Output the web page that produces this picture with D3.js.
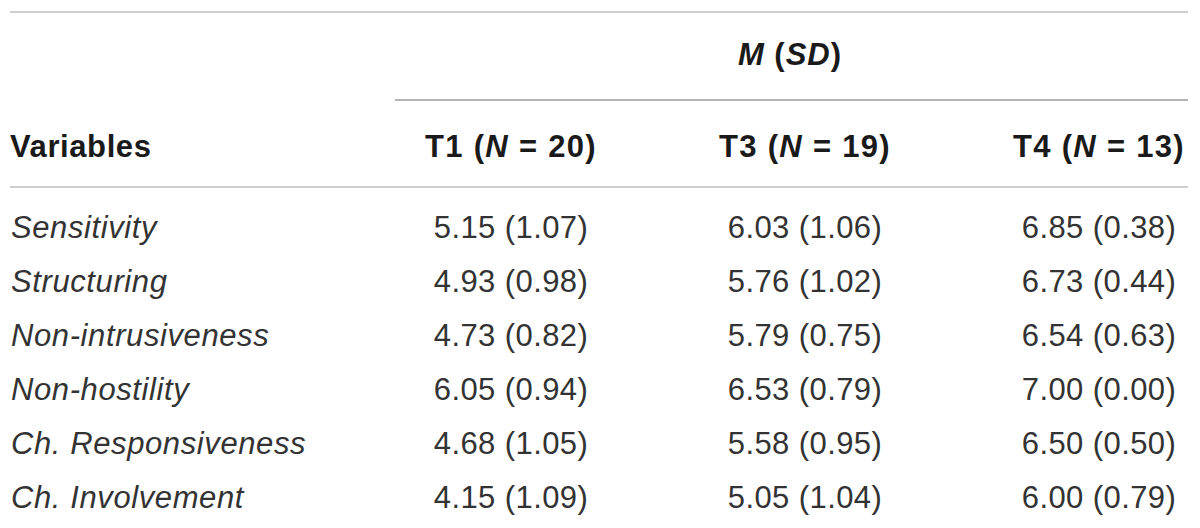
<!DOCTYPE html>
<html>
<head>
<meta charset="utf-8">
<script src="https://cdn.jsdelivr.net/npm/d3@7"></script>
<style>
  html, body { margin: 0; padding: 0; background: #fff; }
  svg text { font-family: "Liberation Sans", Arial, Helvetica, sans-serif; }
</style>
</head>
<body>
<div id="table_div"></div>
<script>
// table content
const variables = ["Sensitivity", "Structuring", "Non-intrusiveness", "Non-hostility",
    "Ch. Responsiveness", "Ch. Involvement"];
const times = ["T1", "T3", "T4"];
const sample_sizes = [20, 19, 13];
const t1_mean = [5.15, 4.93, 4.73, 6.05, 4.68, 4.15];
const t1_sd = [1.07, 0.98, 0.82, 0.94, 1.05, 1.09];
const t3_mean = [6.03, 5.76, 5.79, 6.53, 5.58, 5.05];
const t3_sd = [1.06, 1.02, 0.75, 0.79, 0.95, 1.04];
const t4_mean = [6.85, 6.73, 6.54, 7.00, 6.50, 6.00];
const t4_sd = [0.38, 0.44, 0.63, 0.00, 0.50, 0.79];

const means = [t1_mean, t3_mean, t4_mean];
const sds = [t1_sd, t3_sd, t4_sd];

const width = 1200, height = 528;

const svg = d3.select("#table_div")
    .append("svg")
    .attr("width", width)
    .attr("height", height);

// column centres and row baselines
const x = d3.scalePoint()
    .domain(times)
    .range([511, 1099]);

const y = d3.scalePoint()
    .domain(variables)
    .range([238, 508]);

// rules
const rules = [
    {x1: 10, x2: 1188, y: 12, color: "#cfcfcf"},
    {x1: 395, x2: 1188, y: 100, color: "#b4b4b4"},
    {x1: 10, x2: 1188, y: 187, color: "#cfcfcf"}
];
svg.selectAll("line.rule")
    .data(rules)
    .join("line")
    .attr("class", "rule")
    .attr("x1", d => d.x1)
    .attr("x2", d => d.x2)
    .attr("y1", d => d.y)
    .attr("y2", d => d.y)
    .attr("stroke", d => d.color)
    .attr("stroke-width", 2);

// M (SD) spanner
const spanner = svg.append("text")
    .attr("x", 790)
    .attr("y", 65)
    .attr("text-anchor", "middle")
    .style("font-size", "31px")
    .style("font-weight", "bold")
    .style("letter-spacing", "1px")
    .attr("fill", "#1a1a1a");
spanner.append("tspan").style("font-style", "italic").text("M");
spanner.append("tspan").text(" (");
spanner.append("tspan").style("font-style", "italic").text("SD");
spanner.append("tspan").text(")");

// header row
svg.append("text")
    .attr("x", 10)
    .attr("y", 157)
    .style("font-size", "31px")
    .style("font-weight", "bold")
    .style("letter-spacing", "0.6px")
    .attr("fill", "#1a1a1a")
    .text("Variables");

times.forEach(function (t, i) {
    const head = svg.append("text")
        .attr("x", x(t))
        .attr("y", 157)
        .attr("text-anchor", "middle")
        .style("font-size", "31px")
        .style("font-weight", "bold")
        .style("letter-spacing", "1.3px")
        .attr("fill", "#1a1a1a");
    head.append("tspan").text(t + " (");
    head.append("tspan").style("font-style", "italic").text("N");
    head.append("tspan").text(" = " + sample_sizes[i] + ")");
});

// body rows
svg.selectAll("text.var_label")
    .data(variables)
    .join("text")
    .attr("class", "var_label")
    .attr("x", 11)
    .attr("y", d => y(d))
    .style("font-size", "31px")
    .style("font-style", "italic")
    .style("letter-spacing", "0.6px")
    .attr("fill", "#333")
    .text(d => d);

times.forEach(function (t, c) {
    svg.selectAll("text.cell_" + t)
        .data(variables)
        .join("text")
        .attr("class", "cell_" + t)
        .attr("x", x(t))
        .attr("y", d => y(d))
        .attr("text-anchor", "middle")
        .style("font-size", "31px")
        .style("letter-spacing", "0.4px")
        .attr("fill", "#333")
        .text((d, i) => means[c][i].toFixed(2) + " (" + sds[c][i].toFixed(2) + ")");
});
</script>
</body>
</html>
